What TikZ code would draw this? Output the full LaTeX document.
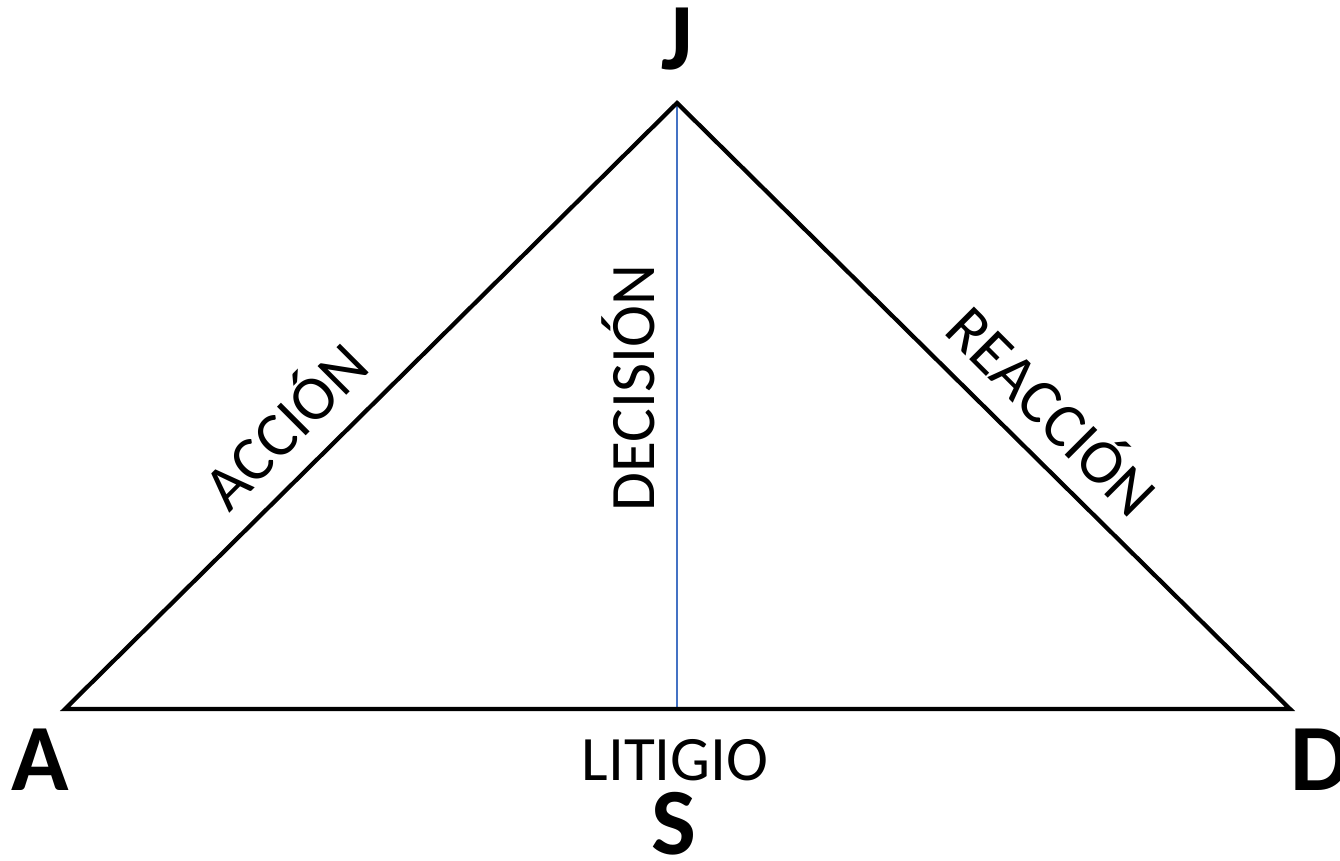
\documentclass[tikz,border=0pt]{standalone}
\usepackage{fontspec}
\setmainfont{Carlito}
\usepackage{tikz}
\usetikzlibrary{calc, positioning}
\definecolor{lineblue}{HTML}{4472C4}
\tikzset{
  vertex/.style = {font=\fontsize{27}{30}\selectfont\bfseries, inner sep=0pt, anchor=base},
  side/.style = {font=\fontsize{18}{20}\selectfont, inner sep=0pt}
}

\begin{document}
\begin{tikzpicture}
      \useasboundingbox (0, 0) rectangle (13.4, 8.6);
      \coordinate (A) at (0.65, 1.51);
      \coordinate (J) at (6.77, 7.57);
      \coordinate (D) at (12.90, 1.51);
      \coordinate (S) at (6.77, 1.51);
      \draw[lineblue, line width = .55pt] (J) -- (S);
      \draw[line width = 1.2pt] (A) -- (J) -- (D) -- cycle;
      \node[vertex] (lj) at (6.77, 7.90) {J};
      \node[vertex] (la) at (0.40, 0.70) {A};
      \node[vertex, anchor = base west] (ld) at (12.90, 0.70) {D};
      \node[vertex] (ls) at (6.74, 0.06) {S};
      \node[side, anchor = base] (litigio) at (6.75, 0.80) {LITIGIO};
      \node[side, rotate = 45] (accion) at (2.82, 4.37) {ACCIÓN};
      \node[side, rotate = 90] (decision) at (6.28, 4.72) {DECISIÓN};
      \node[side, rotate = -45] (reaccion) at (10.55, 4.52) {REACCIÓN};
    \end{tikzpicture}
\end{document}
